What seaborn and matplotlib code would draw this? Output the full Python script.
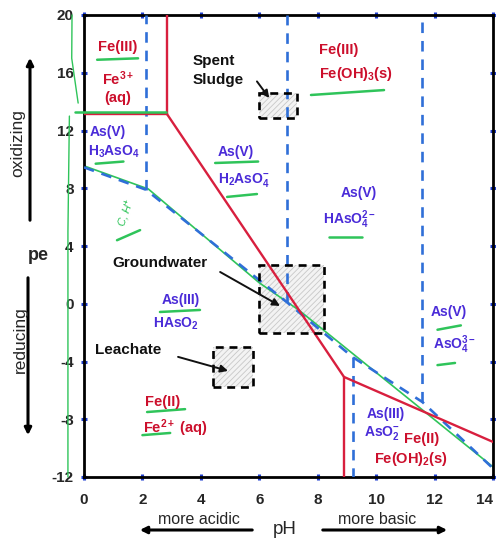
import numpy as np
import pandas as pd
import matplotlib
matplotlib.use("Agg")
import matplotlib.pyplot as plt
import seaborn as sns
from matplotlib.patches import Rectangle

# ---------------- data ----------------
# Fe boundaries (red)
fe_top_pH = [0.0, 2.84]
fe_top_pe = [13.14, 13.14]
fe3_vert_pH = [2.84, 2.84]
fe3_vert_pe = [20.0, 13.14]
fe_redox_pH = [2.84, 8.9, 14.0]
fe_redox_pe = [13.14, -5.07, -9.57]
fe2_vert_pH = [8.9, 8.9]
fe2_vert_pe = [-5.07, -12.0]

# As boundaries (blue dashed)
as_redox_pH = [0.0, 2.12, 6.95, 9.2, 11.58, 14.0]
as_redox_pe = [9.45, 7.9, 0.1, -3.7, -6.8, -11.4]
as_pka_up = [2.12, 6.95, 11.58]      # As(V) acid/base boundaries (above redox line)
as_pka_down = [9.2]                  # As(III) acid/base boundary (below redox line)

# hand drawn green trace along As boundary
green_pH = [0.0, 2.2, 6.0, 7.36, 14.0]
green_pe = [9.55, 7.95, 1.45, -0.45, -11.3]

# sample boxes
box_names = ["Spent Sludge", "Groundwater", "Leachate"]
box_pH_min = [6.0, 6.0, 4.4]
box_pH_max = [7.3, 8.2, 5.8]
box_pe_min = [12.9, -2.0, -5.8]
box_pe_max = [14.6, 2.7, -3.0]

x_ticks = [0, 2, 4, 6, 8, 10, 12, 14]
y_ticks = [-12, -8, -4, 0, 4, 8, 12, 16, 20]

# region labels: (text, pH, pe, alignment)
fe_labels = [("Fe(III)", 1.16, 17.8, "center"), ("Fe$^{3+}$", 1.16, 15.6, "center"),
             ("(aq)", 1.16, 14.25, "center"),
             ("Fe(III)", 8.05, 17.58, "left"), ("Fe(OH)$_3$(s)", 8.05, 15.9, "left"),
             ("Fe(II)", 2.09, -6.8, "left"), ("Fe$^{2+}$ (aq)", 2.02, -8.6, "left"),
             ("Fe(II)", 10.96, -9.36, "left"), ("Fe(OH)$_2$(s)", 9.93, -10.75, "left")]
as_labels = [("As(V)", 0.2, 11.9, "left"), ("H$_3$AsO$_4$", 0.15, 10.5, "left"),
             ("As(V)", 4.59, 10.5, "left"), ("H$_2$AsO$_4^{-}$", 4.59, 8.57, "left"),
             ("As(V)", 8.8, 7.67, "left"), ("HAsO$_4^{2-}$", 8.18, 5.8, "left"),
             ("As(III)", 2.67, 0.26, "left"), ("HAsO$_2$", 2.37, -1.4, "left"),
             ("As(V)", 11.88, -0.57, "left"), ("AsO$_4^{3-}$", 11.95, -2.85, "left"),
             ("As(III)", 9.66, -7.63, "left"), ("AsO$_2^{-}$", 9.59, -8.95, "left")]
black_labels = [("Spent", 3.73, 16.8), ("Sludge", 3.73, 15.5),
                ("Groundwater", 0.96, 2.83), ("Leachate", 0.38, -3.2)]
# arrows (text side -> box side)
arrow_from = [(5.92, 15.4), (4.66, 2.2), (3.22, -3.68)]
arrow_to = [(6.34, 14.25), (6.71, -0.15), (4.93, -4.65)]

# green hand-drawn underline strokes (pH0, pe0, pH1, pe1)
green_strokes = [(0.45, 16.9, 1.85, 17.0), (-0.3, 13.3, 2.8, 13.3),
                 (0.4, 9.7, 1.35, 9.85), (4.49, 9.75, 5.96, 9.85),
                 (4.9, 7.4, 5.92, 7.6), (8.4, 4.6, 9.5, 4.6),
                 (7.77, 14.46, 10.27, 14.8), (2.6, -0.57, 3.97, -0.43),
                 (2.16, -7.5, 3.46, -7.3), (2.0, -9.1, 2.95, -8.95),
                 (12.1, -1.8, 12.9, -1.5), (12.1, -4.25, 12.7, -4.1),
                 (1.13, 4.4, 1.92, 5.1)]
green_bracket_pH = [-0.41, -0.42, -0.20]
green_bracket_pe = [20.0, 17.0, 13.9]
green_bracket2_pH = [-0.5, -0.55, -0.55]
green_bracket2_pe = [13.0, 5.0, -12.0]

# ---------------- style ----------------
sns.set_theme(style="white")
plt.rcParams["font.family"] = ["Liberation Sans", "DejaVu Sans"]
plt.rcParams["mathtext.fontset"] = "custom"
plt.rcParams["mathtext.rm"] = "Liberation Sans:bold"
plt.rcParams["mathtext.it"] = "Liberation Sans:bold"
plt.rcParams["mathtext.bf"] = "Liberation Sans:bold"
plt.rcParams["axes.unicode_minus"] = False
plt.rcParams["hatch.linewidth"] = 0.6

RED = "#d81f3e"
BLUE = "#2f6fd8"
GREEN = "#2fc45a"
FE_TXT = "#cc0f2c"
AS_TXT = "#4a2bd8"

fig = plt.figure(figsize=(4.96, 5.38), dpi=100)
ax = fig.add_axes([84 / 496, 1 - 477 / 538, 409 / 496, 462 / 538])

# green trace (under the blue dashed)
sns.lineplot(x=green_pH, y=green_pe, ax=ax, color=GREEN, lw=1.2, sort=False, estimator=None, zorder=2)

# As boundaries
sns.lineplot(x=as_redox_pH, y=as_redox_pe, ax=ax, color=BLUE, lw=1.9,
             linestyle=(0, (4, 3)), sort=False, estimator=None, zorder=3)
for p in as_pka_up:
    b = float(np.interp(p, as_redox_pH, as_redox_pe))
    sns.lineplot(x=[p, p], y=[b, 20], ax=ax, color=BLUE, lw=1.9,
                 linestyle=(0, (4, 3)), sort=False, estimator=None, zorder=3)
for p in as_pka_down:
    b = float(np.interp(p, as_redox_pH, as_redox_pe))
    sns.lineplot(x=[p, p], y=[b, -12], ax=ax, color=BLUE, lw=1.9,
                 linestyle=(0, (4, 3)), sort=False, estimator=None, zorder=3)

# Fe boundaries
for xs, ys in [(fe_top_pH, fe_top_pe), (fe3_vert_pH, fe3_vert_pe),
               (fe_redox_pH, fe_redox_pe), (fe2_vert_pH, fe2_vert_pe)]:
    sns.lineplot(x=xs, y=ys, ax=ax, color=RED, lw=1.7, sort=False, estimator=None, zorder=4)

# sample boxes
for n, x0, x1, y0, y1 in zip(box_names, box_pH_min, box_pH_max, box_pe_min, box_pe_max):
    ax.add_patch(Rectangle((x0, y0), x1 - x0, y1 - y0, facecolor="#f3f3f3",
                           edgecolor="#c8c8c8", hatch="//////", lw=0, zorder=1))
    ax.add_patch(Rectangle((x0, y0), x1 - x0, y1 - y0, fill=False,
                           edgecolor="black", lw=1.9, linestyle=(0, (3, 2.2)), zorder=5))

# green strokes
for a, b, c, d in green_strokes:
    ax.plot([a, c], [b, d], color=GREEN, lw=1.8, solid_capstyle="round", zorder=6, clip_on=False)
ax.plot(green_bracket_pH, green_bracket_pe, color=GREEN, lw=1.0, clip_on=False, zorder=6)
ax.plot(green_bracket2_pH, green_bracket2_pe, color=GREEN, lw=1.0, clip_on=False, zorder=6)
ax.text(1.45, 6.3, "C, H$^{+}$", color=GREEN, fontsize=8, rotation=70, ha="center",
        va="center", style="italic", zorder=6)

# labels
for t, x, y, ha in fe_labels:
    ax.text(x, y, t, color=FE_TXT, fontsize=10.5, fontweight="bold", ha=ha, va="center", zorder=7)
for t, x, y, ha in as_labels:
    ax.text(x, y, t, color=AS_TXT, fontsize=10, fontweight="bold", ha=ha, va="center", zorder=7)
for t, x, y in black_labels:
    ax.text(x, y, t, color="#111111", fontsize=11, fontweight="bold", ha="left", va="center", zorder=7)
for (x0, y0), (x1, y1) in zip(arrow_from, arrow_to):
    ax.annotate("", xy=(x1, y1), xytext=(x0, y0),
                arrowprops=dict(arrowstyle="-|>", color="#111111", lw=1.4,
                                mutation_scale=11, shrinkA=0, shrinkB=0), zorder=7)

# axes formatting
ax.set_xlim(0, 14)
ax.set_ylim(-12, 20)
ax.set_xticks(x_ticks)
ax.set_yticks(y_ticks)
ax.set_xticklabels([str(v) for v in x_ticks], fontsize=11, fontweight="bold")
ax.set_yticklabels([str(v) for v in y_ticks], fontsize=11, fontweight="bold")
# keep the last x label inside the figure edge
ax.get_xticklabels()[-1].set_horizontalalignment("right")
ax.get_xticklabels()[-1].set_x(14.0)
ax.tick_params(axis="both", which="major", direction="inout", length=5, width=2.2,
               color="#1f3fd0", top=True, right=True, bottom=True, left=True)
ax.tick_params(axis="x", pad=9)
ax.tick_params(axis="y", pad=5)
ax.set_xlabel("")
ax.set_ylabel("")
for s in ax.spines.values():
    s.set_color("black")
    s.set_linewidth(2.0)
    s.set_visible(True)

# outside annotations (figure pixels -> fraction)
def fp(x, y):
    return (x / 496, 1 - y / 538)

fig.text(*fp(18, 143), "oxidizing", rotation=90, ha="center", va="center", fontsize=12.5)
fig.text(*fp(20, 340), "reducing", rotation=90, ha="center", va="center", fontsize=12.5)
fig.text(*fp(38, 256), "pe", ha="center", va="center", fontsize=13, fontweight="bold")
fig.text(*fp(285, 529), "pH", ha="center", va="center", fontsize=13.5)
fig.text(*fp(199, 519), "more acidic", ha="center", va="center", fontsize=11.5)
fig.text(*fp(377, 519), "more basic", ha="center", va="center", fontsize=11.5)

arrows_fig = [((30, 223), (30, 55)), ((28, 275), (28, 438)),
              ((255, 530), (137, 530)), ((320, 530), (450, 530))]
for (x0, y0), (x1, y1) in arrows_fig:
    fig.add_artist(matplotlib.patches.FancyArrowPatch(
        fp(x0, y0), fp(x1, y1), transform=fig.transFigure, arrowstyle="-|>",
        mutation_scale=10, lw=2.2, color="black"))

fig.savefig("out.png", dpi=100)
